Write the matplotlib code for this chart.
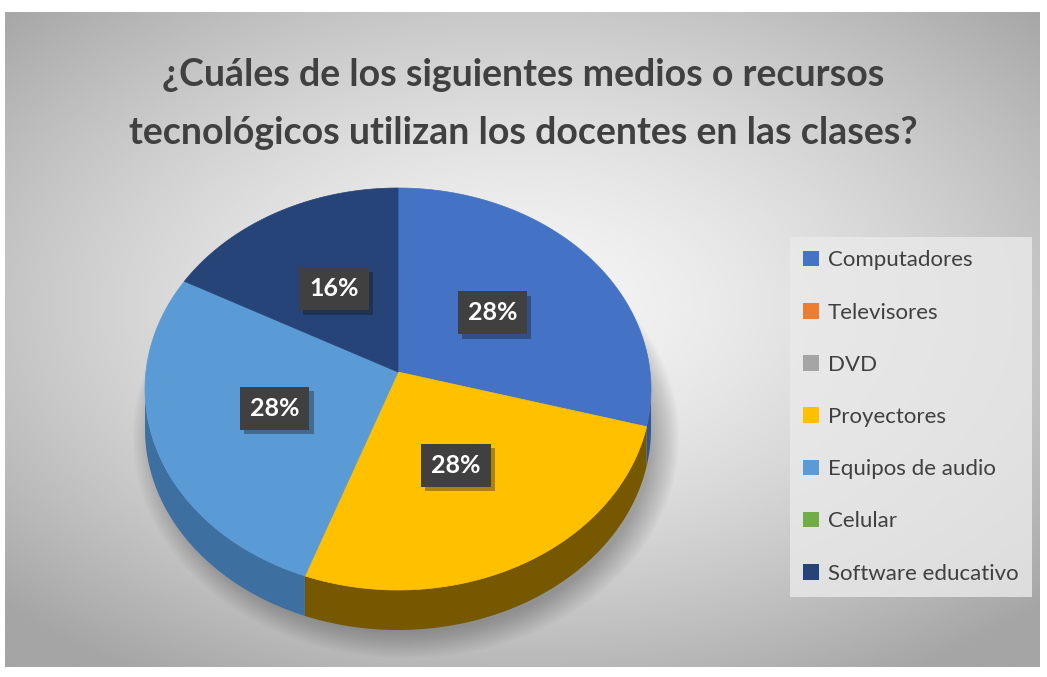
import numpy as np
import matplotlib.pyplot as plt
from matplotlib.patches import Polygon, Patch, Ellipse
import matplotlib.patheffects as pe

# data
categories = ['Computadores', 'Televisores', 'DVD', 'Proyectores',
              'Equipos de audio', 'Celular', 'Software educativo']
values = [28, 0, 0, 28, 28, 0, 16]
colors = ['#4472C4', '#ED7D31', '#A5A5A5', '#FFC000',
          '#5B9BD5', '#70AD47', '#264478']
side_colors = ['#2F5597', '#A04F1A', '#707070', '#765800',
               '#3D6FA0', '#4A7A2E', '#18305A']
title = '¿Cuáles de los siguientes medios o recursos\ntecnológicos utilizan los docentes en las clases?'

W, H = 1047, 677
fig = plt.figure(figsize=(W / 100, H / 100), dpi=100)
fig.patch.set_facecolor('white')

# radial grey gradient panel
bg = fig.add_axes([5 / W, 1 - 667 / H, 1035 / W, 655 / H])
yy, xx = np.mgrid[-1:1:300j, -1:1:400j]
r = np.sqrt((xx / 1.0) ** 2 + ((yy + 0.1) / 0.95) ** 2)
shade = 0.96 - 0.19 * np.clip(r, 0, 1.4) ** 1.5
bg.imshow(shade, cmap='gray', vmin=0, vmax=1, aspect='auto',
          extent=[0, 1, 0, 1], interpolation='bicubic')
bg.axis('off')

ax = fig.add_axes([0, 0, 1, 1])
ax.set_xlim(0, W)
ax.set_ylim(H, 0)
ax.axis('off')
ax.patch.set_alpha(0)

cx, cy = 398, 389       # centre of the top ellipse
apex_y = 372            # where the slices meet
a, b = 253, 201
depth = 40


def pt(th, dy=0):
    t = np.radians(th)
    return cx + a * np.cos(t), cy - b * np.sin(t) + dy


# soft shadow under the pie
for k in range(14):
    ax.add_patch(Ellipse((cx + 8, cy + depth + 8), 2 * a + 40 - k * 4,
                         2 * b + 40 - k * 4, fc='black', ec='none',
                         alpha=0.018, zorder=1))

total = float(sum(values))
angles = []
start = 90.0
for v in values:
    end = start - v / total * 360
    angles.append((start, end))
    start = end

# side walls (front half only)
for (t0, t1), v, sc in zip(angles, values, side_colors):
    if v == 0:
        continue
    th = np.linspace(t1, t0, 200)
    th = th[np.sin(np.radians(th)) <= 0.001]
    if len(th) < 2:
        continue
    top = [pt(t) for t in th]
    bot = [pt(t, depth) for t in th[::-1]]
    ax.add_patch(Polygon(top + bot, closed=True, fc=sc, ec='none', zorder=2))

# top face
for (t0, t1), v, c in zip(angles, values, colors):
    if v == 0:
        continue
    th = np.linspace(t0, t1, 200)
    poly = [(cx, apex_y)] + [pt(t) for t in th]
    ax.add_patch(Polygon(poly, closed=True, fc=c, ec=c, lw=0.5, zorder=3))

# data labels
for (t0, t1), v in zip(angles, values):
    if v == 0:
        continue
    mid = np.radians((t0 + t1) / 2)
    lx = cx + 0.5 * a * np.cos(mid) - 3
    ly = apex_y + 5 - 0.5 * b * np.sin(mid)
    txt = ax.text(lx, ly, f'{v:.0f}%', ha='center', va='center',
                  fontsize=18, fontweight='bold', color='white',
                  family='Lato', zorder=5,
                  bbox=dict(boxstyle='square,pad=0.4', fc='#404040',
                            ec='none'))
    txt.get_bbox_patch().set_path_effects(
        [pe.withSimplePatchShadow(offset=(3, -3), alpha=0.35)])

ax.text(523, 104, title, ha='center', va='center', fontsize=27,
        fontweight='bold', color='#404040', family='Lato',
        linespacing=1.85)

handles = [Patch(fc=c, ec='none') for c in colors]
leg = ax.legend(handles, categories, loc='upper left',
                bbox_to_anchor=(790 / W, 1 - 237 / H), frameon=True,
                fancybox=False, prop={'family': 'Lato', 'size': 16},
                labelcolor='#404040', handlelength=0.7, handleheight=0.7,
                handletextpad=0.4, labelspacing=1.45, borderpad=0.6,
                borderaxespad=0)
leg.get_frame().set_facecolor('#EAEAEA')
leg.get_frame().set_alpha(0.8)
leg.get_frame().set_edgecolor('none')

fig.savefig('out.png', dpi=100)
